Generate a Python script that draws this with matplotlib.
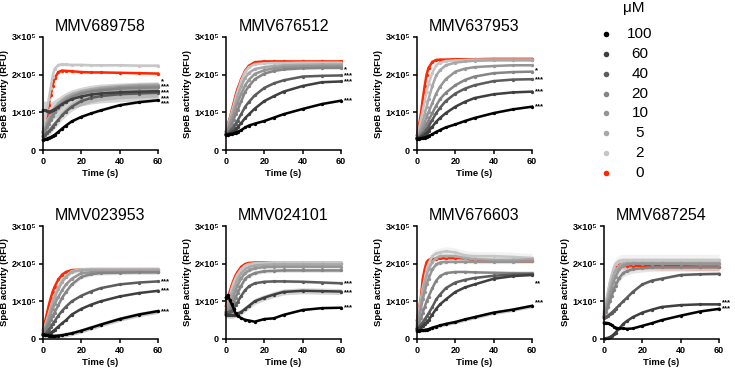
import numpy as np
import matplotlib
matplotlib.use("Agg")
import matplotlib.pyplot as plt
from matplotlib.lines import Line2D

plt.rcParams['font.family'] = ['Liberation Sans', 'DejaVu Sans']

# time points (s) and concentrations (uM)
T = [0, 1, 2, 3, 4, 5, 6, 8, 10, 12, 15, 20, 25, 30, 40, 50, 60]
conc = ['100', '60', '40', '20', '10', '5', '2', '0']
colors = ['#000000', '#3f3f3f', '#5c5c5c', '#858585', '#959595', '#a8a8a8', '#c6c6c6', '#ff2600']

# SpeB activity, units of 1e5 RFU; rows follow conc order
mmv689758 = [
    [0.26, 0.28, 0.30, 0.32, 0.34, 0.37, 0.40, 0.48, 0.57, 0.65, 0.76, 0.88, 0.97, 1.05, 1.19, 1.27, 1.32],
    [1.05, 1.05, 1.04, 1.02, 1.03, 1.05, 1.08, 1.15, 1.22, 1.28, 1.35, 1.42, 1.47, 1.50, 1.53, 1.55, 1.56],
    [0.35, 0.40, 0.45, 0.50, 0.55, 0.62, 0.68, 0.80, 0.92, 1.02, 1.15, 1.30, 1.38, 1.43, 1.48, 1.50, 1.52],
    [0.40, 0.50, 0.60, 0.70, 0.80, 0.90, 1.00, 1.12, 1.22, 1.30, 1.40, 1.50, 1.55, 1.58, 1.63, 1.65, 1.66],
    [0.45, 0.55, 0.65, 0.78, 0.88, 0.98, 1.06, 1.18, 1.28, 1.35, 1.43, 1.52, 1.57, 1.61, 1.66, 1.69, 1.70],
    [0.50, 0.60, 0.72, 0.85, 0.95, 1.05, 1.12, 1.24, 1.33, 1.40, 1.48, 1.56, 1.61, 1.65, 1.69, 1.72, 1.73],
    [0.50, 0.80, 1.05, 1.35, 1.65, 1.95, 2.15, 2.26, 2.27, 2.27, 2.26, 2.26, 2.25, 2.25, 2.25, 2.24, 2.24],
    [0.48, 0.70, 0.92, 1.20, 1.45, 1.70, 1.90, 2.07, 2.11, 2.10, 2.09, 2.07, 2.06, 2.06, 2.05, 2.04, 2.03],
]
mmv676512 = [
    [0.40, 0.41, 0.42, 0.43, 0.44, 0.46, 0.48, 0.53, 0.60, 0.65, 0.70, 0.77, 0.86, 0.95, 1.09, 1.22, 1.31],
    [0.40, 0.42, 0.44, 0.47, 0.50, 0.55, 0.60, 0.72, 0.85, 0.95, 1.10, 1.30, 1.43, 1.55, 1.70, 1.80, 1.82],
    [0.40, 0.44, 0.50, 0.56, 0.62, 0.70, 0.78, 0.96, 1.15, 1.28, 1.45, 1.65, 1.77, 1.85, 1.95, 1.97, 1.98],
    [0.42, 0.50, 0.60, 0.70, 0.80, 0.95, 1.05, 1.30, 1.55, 1.70, 1.88, 2.03, 2.10, 2.14, 2.17, 2.18, 2.18],
    [0.45, 0.55, 0.68, 0.82, 0.95, 1.10, 1.25, 1.50, 1.72, 1.87, 2.02, 2.12, 2.17, 2.20, 2.22, 2.23, 2.23],
    [0.48, 0.60, 0.75, 0.92, 1.08, 1.25, 1.42, 1.70, 1.92, 2.05, 2.15, 2.20, 2.23, 2.25, 2.26, 2.27, 2.27],
    [0.50, 0.65, 0.82, 1.00, 1.18, 1.38, 1.55, 1.85, 2.08, 2.20, 2.28, 2.30, 2.31, 2.31, 2.32, 2.32, 2.32],
    [0.50, 0.69, 0.85, 1.05, 1.25, 1.45, 1.62, 1.89, 2.11, 2.24, 2.33, 2.35, 2.35, 2.35, 2.35, 2.35, 2.35],
]
mmv637953 = [
    [0.30, 0.30, 0.31, 0.32, 0.33, 0.35, 0.37, 0.42, 0.48, 0.53, 0.60, 0.68, 0.77, 0.85, 0.98, 1.08, 1.15],
    [0.30, 0.32, 0.34, 0.37, 0.40, 0.45, 0.50, 0.62, 0.75, 0.85, 0.98, 1.15, 1.28, 1.38, 1.48, 1.53, 1.55],
    [0.30, 0.34, 0.38, 0.43, 0.48, 0.55, 0.62, 0.80, 0.98, 1.12, 1.30, 1.50, 1.63, 1.72, 1.83, 1.87, 1.88],
    [0.32, 0.37, 0.43, 0.50, 0.58, 0.68, 0.78, 0.98, 1.18, 1.35, 1.52, 1.72, 1.86, 1.95, 2.04, 2.07, 2.08],
    [0.33, 0.40, 0.50, 0.60, 0.72, 0.88, 1.00, 1.25, 1.50, 1.68, 1.88, 2.08, 2.16, 2.20, 2.23, 2.25, 2.25],
    [0.35, 0.45, 0.60, 0.78, 0.95, 1.15, 1.35, 1.70, 1.98, 2.12, 2.25, 2.32, 2.35, 2.37, 2.38, 2.38, 2.38],
    [0.35, 0.55, 0.80, 1.05, 1.30, 1.55, 1.75, 2.05, 2.25, 2.32, 2.36, 2.38, 2.39, 2.40, 2.40, 2.40, 2.40],
    [0.40, 0.65, 0.95, 1.35, 1.70, 2.00, 2.18, 2.34, 2.39, 2.40, 2.40, 2.41, 2.41, 2.41, 2.42, 2.42, 2.42],
]
mmv023953 = [
    [0.12, 0.11, 0.10, 0.09, 0.09, 0.08, 0.08, 0.09, 0.10, 0.12, 0.15, 0.22, 0.30, 0.38, 0.53, 0.65, 0.74],
    [0.10, 0.11, 0.12, 0.14, 0.16, 0.20, 0.24, 0.33, 0.42, 0.50, 0.65, 0.80, 0.91, 1.00, 1.13, 1.22, 1.28],
    [0.10, 0.13, 0.18, 0.25, 0.32, 0.40, 0.47, 0.62, 0.75, 0.86, 1.00, 1.15, 1.26, 1.35, 1.45, 1.50, 1.53],
    [0.12, 0.20, 0.30, 0.40, 0.50, 0.60, 0.70, 0.90, 1.10, 1.25, 1.45, 1.65, 1.72, 1.75, 1.76, 1.77, 1.77],
    [0.15, 0.25, 0.37, 0.50, 0.65, 0.80, 0.92, 1.12, 1.30, 1.45, 1.60, 1.75, 1.77, 1.78, 1.78, 1.78, 1.78],
    [0.18, 0.30, 0.45, 0.60, 0.78, 0.95, 1.10, 1.32, 1.52, 1.65, 1.78, 1.83, 1.84, 1.84, 1.84, 1.84, 1.84],
    [0.20, 0.35, 0.50, 0.68, 0.85, 1.00, 1.15, 1.38, 1.55, 1.68, 1.80, 1.85, 1.86, 1.86, 1.86, 1.86, 1.86],
    [0.25, 0.45, 0.67, 0.89, 1.08, 1.25, 1.38, 1.58, 1.71, 1.78, 1.83, 1.84, 1.84, 1.84, 1.84, 1.84, 1.84],
]
mmv024101 = [
    [1.10, 1.17, 1.03, 0.92, 0.80, 0.68, 0.62, 0.55, 0.51, 0.49, 0.46, 0.53, 0.55, 0.64, 0.77, 0.82, 0.83],
    [0.65, 0.64, 0.63, 0.63, 0.64, 0.65, 0.67, 0.72, 0.80, 0.88, 1.00, 1.10, 1.18, 1.25, 1.28, 1.27, 1.26],
    [0.70, 0.71, 0.72, 0.75, 0.80, 0.90, 0.98, 1.15, 1.30, 1.40, 1.48, 1.52, 1.53, 1.53, 1.52, 1.50, 1.48],
    [0.65, 0.70, 0.78, 0.85, 0.98, 1.10, 1.22, 1.42, 1.60, 1.68, 1.75, 1.80, 1.81, 1.82, 1.82, 1.82, 1.82],
    [0.70, 0.80, 0.90, 1.00, 1.15, 1.30, 1.42, 1.62, 1.75, 1.82, 1.88, 1.91, 1.92, 1.92, 1.92, 1.92, 1.92],
    [0.75, 0.90, 1.05, 1.20, 1.33, 1.45, 1.58, 1.75, 1.85, 1.91, 1.95, 1.97, 1.98, 1.98, 1.98, 1.98, 1.98],
    [0.80, 0.98, 1.15, 1.35, 1.50, 1.62, 1.72, 1.86, 1.95, 1.99, 2.01, 2.02, 2.02, 2.02, 2.02, 2.02, 2.02],
    [0.88, 1.08, 1.27, 1.43, 1.57, 1.69, 1.78, 1.92, 1.99, 2.02, 2.03, 2.03, 2.02, 2.02, 2.02, 2.02, 2.02],
]
mmv676603 = [
    [0.22, 0.22, 0.23, 0.23, 0.24, 0.25, 0.26, 0.30, 0.33, 0.36, 0.40, 0.45, 0.52, 0.58, 0.70, 0.78, 0.88],
    [0.25, 0.28, 0.31, 0.35, 0.40, 0.45, 0.50, 0.65, 0.80, 0.92, 1.05, 1.25, 1.37, 1.45, 1.60, 1.67, 1.70],
    [0.28, 0.32, 0.38, 0.45, 0.52, 0.60, 0.68, 0.85, 1.05, 1.18, 1.35, 1.50, 1.57, 1.62, 1.68, 1.71, 1.72],
    [0.30, 0.40, 0.55, 0.70, 0.85, 1.00, 1.12, 1.35, 1.55, 1.67, 1.75, 1.78, 1.78, 1.77, 1.76, 1.75, 1.75],
    [0.35, 0.55, 0.80, 1.05, 1.25, 1.45, 1.60, 1.85, 1.98, 2.03, 2.05, 2.05, 2.05, 2.05, 2.05, 2.05, 2.06],
    [0.40, 0.65, 0.95, 1.25, 1.50, 1.70, 1.85, 2.05, 2.15, 2.20, 2.20, 2.20, 2.15, 2.12, 2.10, 2.10, 2.12],
    [0.45, 0.75, 1.05, 1.35, 1.60, 1.85, 2.00, 2.20, 2.27, 2.30, 2.33, 2.30, 2.22, 2.20, 2.20, 2.18, 2.15],
    [0.50, 0.80, 1.10, 1.60, 1.85, 2.04, 2.10, 2.12, 2.13, 2.14, 2.15, 2.15, 2.14, 2.10, 2.07, 2.06, 2.06],
]
mmv687254 = [
    [0.43, 0.43, 0.42, 0.40, 0.37, 0.33, 0.30, 0.28, 0.28, 0.27, 0.28, 0.35, 0.42, 0.50, 0.62, 0.73, 0.80],
    [0.00, 0.02, 0.03, 0.05, 0.08, 0.12, 0.17, 0.28, 0.40, 0.48, 0.58, 0.70, 0.78, 0.85, 0.90, 0.92, 0.92],
    [0.55, 0.58, 0.62, 0.66, 0.70, 0.75, 0.80, 0.90, 1.00, 1.10, 1.25, 1.45, 1.55, 1.60, 1.70, 1.72, 1.73],
    [0.60, 0.72, 0.85, 1.00, 1.15, 1.30, 1.42, 1.62, 1.75, 1.80, 1.85, 1.88, 1.90, 1.90, 1.90, 1.90, 1.90],
    [0.65, 0.80, 0.98, 1.15, 1.35, 1.52, 1.65, 1.85, 1.95, 1.98, 2.00, 2.00, 2.00, 2.00, 2.00, 2.00, 2.00],
    [0.70, 0.90, 1.10, 1.32, 1.52, 1.70, 1.82, 1.95, 2.00, 2.02, 2.02, 2.02, 2.02, 2.02, 2.02, 2.02, 2.02],
    [0.75, 1.00, 1.25, 1.50, 1.70, 1.88, 2.00, 2.08, 2.10, 2.10, 2.10, 2.10, 2.10, 2.10, 2.10, 2.10, 2.10],
    [0.60, 0.85, 1.15, 1.45, 1.65, 1.80, 1.88, 1.97, 1.96, 1.95, 1.95, 1.94, 1.94, 1.93, 1.93, 1.92, 1.92],
]

# typical error (1e5 RFU) per concentration, per compound
err689758 = [0.03, 0.25, 0.12, 0.08, 0.08, 0.06, 0.04, 0.02]
err676512 = [0.02, 0.02, 0.02, 0.03, 0.03, 0.03, 0.04, 0.05]
err637953 = [0.02, 0.02, 0.02, 0.02, 0.02, 0.02, 0.02, 0.02]
err023953 = [0.06, 0.02, 0.02, 0.05, 0.05, 0.05, 0.06, 0.02]
err024101 = [0.02, 0.08, 0.03, 0.05, 0.05, 0.05, 0.05, 0.02]
err676603 = [0.05, 0.02, 0.02, 0.02, 0.05, 0.08, 0.12, 0.03]
err687254 = [0.02, 0.02, 0.03, 0.10, 0.12, 0.12, 0.15, 0.10]

# significance marks (text, height in 1e5 RFU); stacked marks share one text
sig689758 = [('*\n***\n***\n***\n***', 1.52)]
sig676512 = [('*', 2.14), ('***', 1.98), ('***', 1.82), ('***', 1.31)]
sig637953 = [('*', 2.11), ('***', 1.86), ('***', 1.54), ('***', 1.15)]
sig023953 = [('***', 1.51), ('***', 1.27), ('***', 0.73)]
sig024101 = [('***', 1.46), ('***', 1.24), ('***', 0.83)]
sig676603 = [('**', 1.47), ('***', 0.96)]
sig687254 = [('***', 0.95), ('***', 0.80)]

panels = [
    ('MMV689758', mmv689758, err689758, sig689758, 0, 0),
    ('MMV676512', mmv676512, err676512, sig676512, 0, 1),
    ('MMV637953', mmv637953, err637953, sig637953, 0, 2),
    ('MMV023953', mmv023953, err023953, sig023953, 1, 0),
    ('MMV024101', mmv024101, err024101, sig024101, 1, 1),
    ('MMV676603', mmv676603, err676603, sig676603, 1, 2),
    ('MMV687254', mmv687254, err687254, sig687254, 1, 3),
]

W, H = 735, 370
fig = plt.figure(figsize=(W / 100, H / 100), dpi=100)
col_left = [43, 226, 417, 604]
row_top = [37, 226]
ax_w, ax_h = 115, 113

t = np.array(T)
for title, data, err, sig, r, c in panels:
    ax = fig.add_axes([col_left[c] / W, (H - row_top[r] - ax_h) / H, ax_w / W, ax_h / H])
    # draw 0 uM first, 100 uM last (on top)
    for i in reversed(range(len(conc))):
        y = np.array(data[i]) * 1e5
        e = err[i] * 1e5
        ax.fill_between(t, y - e, y + e, color=colors[i], alpha=0.22, lw=0, clip_on=False)
        ax.plot(t, y, '-o', color=colors[i], lw=1.8, ms=2.4, mew=0, clip_on=False)
    for s, yv in sig:
        ax.text(61.8, yv * 1e5, s, fontsize=5.5, fontweight='bold', ha='left', va='center',
                linespacing=0.72, clip_on=False)
    ax.set_xlim(0, 60)
    ax.set_ylim(0, 3e5)
    ax.set_xticks([0, 20, 40, 60])
    ax.set_yticks([0, 1e5, 2e5, 3e5])
    ax.set_yticklabels(['0', '1×10⁵', '2×10⁵', '3×10⁵'])
    for sp in ['top', 'right']:
        ax.spines[sp].set_visible(False)
    for sp in ['left', 'bottom']:
        ax.spines[sp].set_linewidth(1.1)
    ax.tick_params(axis='both', width=1.1, length=3, labelsize=6.5, pad=2)
    for lab in ax.get_xticklabels() + ax.get_yticklabels():
        lab.set_fontweight('bold')
    ax.set_xlabel('Time (s)', fontsize=6.8, fontweight='bold', labelpad=2)
    ax.set_ylabel('SpeB activity (RFU)', fontsize=6.8, fontweight='bold')
    ax.yaxis.set_label_coords(-0.295, 0.5)
    ax.set_title(title, fontsize=11.5, pad=4)

# legend (concentration key)
fig.text(634 / W, 1 - 8 / H, 'μM', fontsize=11, ha='center', va='center')
for i, (lab, col) in enumerate(zip(conc, colors)):
    yy = 1 - (34 + 19.86 * i) / H
    fig.add_artist(Line2D([606 / W], [yy], marker='o', ms=4, color=col, mew=0,
                          transform=fig.transFigure))
    fig.text(640 / W, yy, lab, fontsize=11, ha='center', va='center')

fig.savefig('out.png', dpi=100)
